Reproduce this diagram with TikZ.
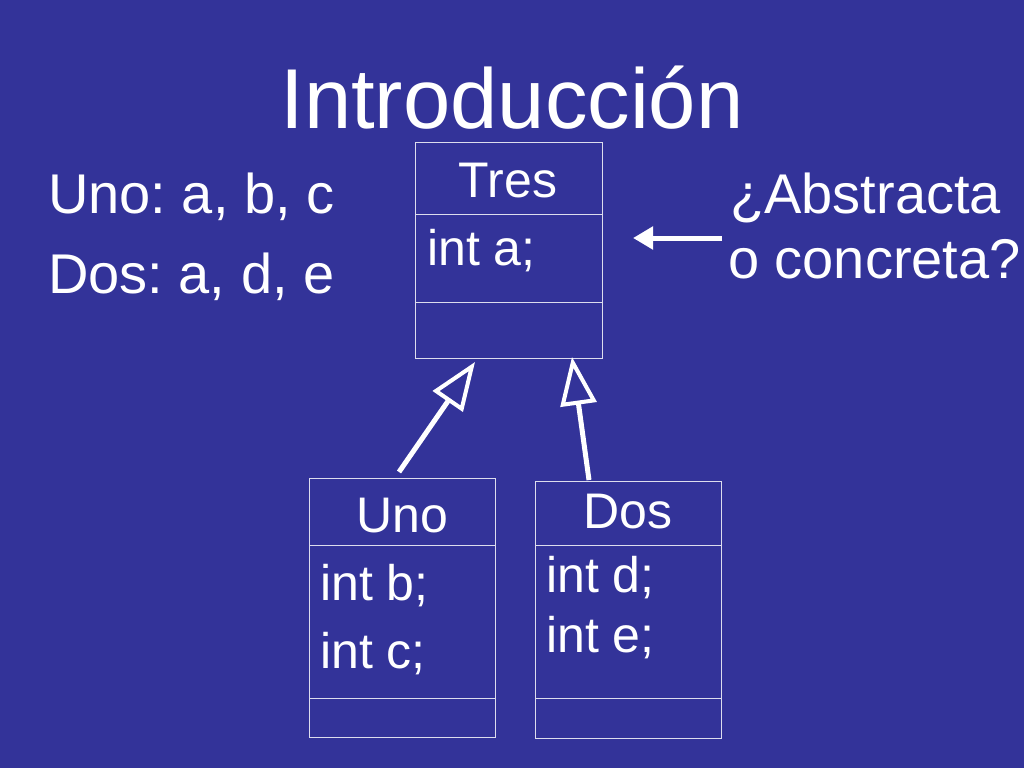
\documentclass[tikz,border=0pt]{standalone}
\usepackage{fontspec}
\setmainfont{Liberation Sans}
\frenchspacing
\usetikzlibrary{arrows.meta}
\definecolor{bg}{HTML}{333399}
\definecolor{ln}{HTML}{DDDDEE}
\begin{document}
\begin{tikzpicture}[x=1pt,y=-1pt,
  txt/.style={text=white,inner sep=0pt,font=\fontsize{50}{56}\selectfont},
  big/.style={txt,font=\fontsize{56}{62}\selectfont},
  box/.style={draw=ln,line width=1pt},
  inh/.style={draw=white,line width=5pt,-{Triangle[open,length=48pt,width=36pt,line width=4pt,fill=bg]}}]
\fill[bg] (0,0) rectangle (1024,768);
\useasboundingbox (0,0) rectangle (1024,768);
\node[txt,anchor=base,font=\fontsize{85}{95}\selectfont] (title) at (512,128) {Introducción};
\node[big,anchor=base west] (l1) at (48,213) {Uno: a, b, c};
\node[big,anchor=base west] (l2) at (48,293) {Dos: a, d, e};
\node[big,anchor=base west] (q1) at (730,213) {¿Abstracta};
\node[big,anchor=base west] (q2) at (728,278) {o concreta?};
% Tres
\draw[box] (415,142) rectangle (602,358);
\draw[box] (415,214) -- (602,214) (415,302) -- (602,302);
\node[txt,anchor=base] (tres) at (508,197) {Tres};
\node[txt,anchor=base west] (ta) at (427,265) {int a;};
% Uno
\draw[box] (309,478) rectangle (495,737);
\draw[box] (309,545) -- (495,545) (309,698) -- (495,698);
\node[txt,anchor=base] (uno) at (402,532) {Uno};
\node[txt,anchor=base west] (ub) at (320,600) {int b;};
\node[txt,anchor=base west] (uc) at (320,668) {int c;};
% Dos
\draw[box] (535,481) rectangle (721,738);
\draw[box] (535,545) -- (721,545) (535,698) -- (721,698);
\node[txt,anchor=base] (dos) at (628,528) {Dos};
\node[txt,anchor=base west] (dd) at (546,592) {int d;};
\node[txt,anchor=base west] (de) at (546,652) {int e;};
% connectors
\coordinate (us) at (399,472); \coordinate (ue) at (475,362);
\coordinate (ds) at (589,480); \coordinate (de2) at (572,357);
\coordinate (as) at (722,238); \coordinate (ae) at (633,238);
\draw[inh] (us) -- (ue);
\draw[inh] (ds) -- (de2);
\draw[white,line width=5pt,-{Triangle[length=20pt,width=22pt]}] (as) -- (ae);
\end{tikzpicture}
\end{document}
